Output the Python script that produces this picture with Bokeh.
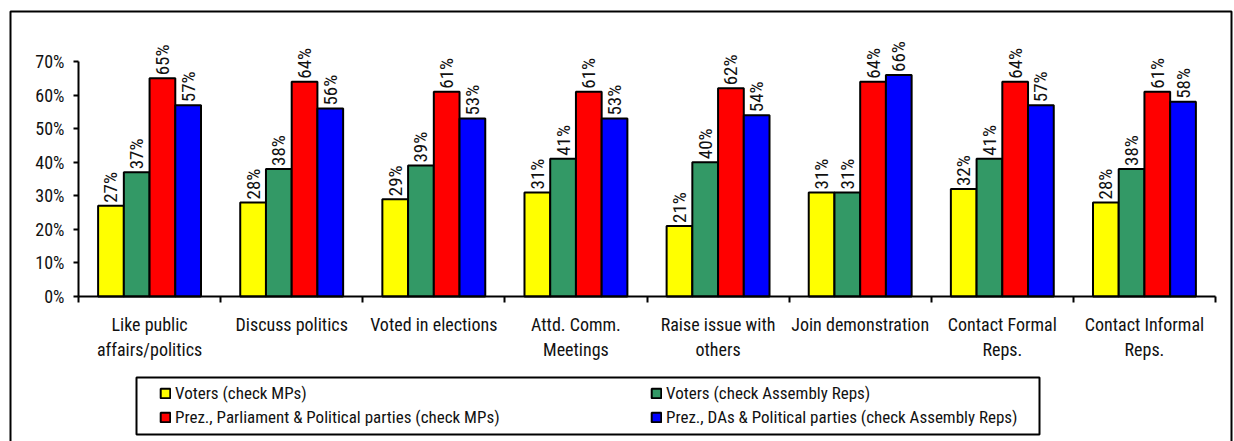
from bokeh.plotting import figure
from bokeh.models import (Range1d, FixedTicker, NumeralTickFormatter, Legend, LegendItem,
                          BoxAnnotation)
from bokeh.core.properties import value
from bokeh.embed import file_html
from bokeh.resources import INLINE

# Participation by category, percent of respondents in each group
categories = ["Like public\naffairs/politics", "Discuss politics", "Voted in elections",
              "Attd. Comm.\nMeetings", "Raise issue with\nothers", "Join demonstration",
              "Contact Formal\nReps.", "Contact Informal\nReps."]

series_names = ["Voters (check MPs)",
                "Voters (check Assembly Reps)",
                "Prez., Parliament & Political parties (check MPs)",
                "Prez., DAs & Political parties (check Assembly Reps)"]
voters_mps = [27, 28, 29, 31, 21, 31, 32, 28]
voters_assembly = [37, 38, 39, 41, 40, 31, 41, 38]
prez_parliament = [65, 64, 61, 61, 62, 64, 64, 61]
prez_das = [57, 56, 53, 53, 54, 66, 57, 58]
series_values = [voters_mps, voters_assembly, prez_parliament, prez_das]
series_colors = ["#FFFF00", "#339966", "#FF0000", "#0000FF"]

y_ticks = [0, 0.1, 0.2, 0.3, 0.4, 0.5, 0.6, 0.7]

FONT = "'Roboto Condensed', 'DejaVu Sans Condensed', 'Liberation Sans'"
TEXT = "#111111"

W, H = 1234, 441
# the plotting frame fills the whole canvas; axes sit at the data origin
X0, X1 = 78, 1215          # pixel span of the category axis
Y0, PX_PER_UNIT = 296, 335.7
ppx = (X1 - X0) / len(categories)
x_range = Range1d(-X0 / ppx, len(categories) + (W - X1) / ppx)
y_range = Range1d(-(H - Y0) / PX_PER_UNIT, Y0 / PX_PER_UNIT)

p = figure(width=W, height=H, output_backend="svg", toolbar_location=None,
           x_range=x_range, y_range=y_range,
           min_border_left=0, min_border_right=0, min_border_top=0, min_border_bottom=0)
p.grid.visible = False
p.outline_line_color = None
p.background_fill_color = "white"
p.border_fill_color = "white"

bar_w = 0.181
renderers = []
for k, (vals, color) in enumerate(zip(series_values, series_colors)):
    xs = [i + 0.5 + (k - 1.5) * bar_w for i in range(len(categories))]
    tops = [v / 100 for v in vals]
    r = p.vbar(x=xs, top=tops, width=bar_w, fill_color=color, line_color="black",
               line_width=2)
    renderers.append(r)
    p.text(x=xs, y=tops, text=[f"{v}%" for v in vals], angle=1.5708,
           text_align="left", text_baseline="middle", y_offset=-3,
           text_font=value(FONT), text_font_size="19px", text_color=TEXT)

# y axis: 0%..70%
ya = p.yaxis[0]
ya.fixed_location = 0
ya.ticker = FixedTicker(ticks=y_ticks)
ya.formatter = NumeralTickFormatter(format="0%")
ya.bounds = (0, 0.7)
ya.axis_line_width = 2
ya.major_tick_line_width = 2
ya.major_tick_out = 5
ya.major_tick_in = 0
ya.minor_tick_line_color = None
ya.major_label_text_font = FONT
ya.major_label_text_font_size = "18px"
ya.major_label_text_color = TEXT
ya.major_label_standoff = 9

# x axis: labels at category centres, ticks at category boundaries
xa = p.xaxis[0]
xa.fixed_location = 0
xa.bounds = (0, len(categories))
xa.ticker = FixedTicker(ticks=[i + 0.5 for i in range(len(categories))],
                        minor_ticks=list(range(len(categories) + 1)))
xa.major_label_overrides = {i + 0.5: c for i, c in enumerate(categories)}
xa.axis_line_width = 2
xa.major_tick_line_color = None
xa.major_tick_out = 0
xa.major_tick_in = 0
xa.minor_tick_line_width = 2
xa.minor_tick_out = 6
xa.minor_tick_in = 0
xa.major_label_text_font = FONT
xa.major_label_text_font_size = "18px"
xa.major_label_text_color = TEXT
xa.major_label_standoff = 11

# two-column legend, one Legend per column
for col, idx in enumerate([(0, 2), (1, 3)]):
    items = [LegendItem(label=series_names[j], renderers=[renderers[j]]) for j in idx]
    lg = Legend(items=items, location=(159 if col == 0 else 650, 14),
                padding=0, margin=0, spacing=4, glyph_width=12, glyph_height=12,
                label_height=20, label_standoff=4, label_text_font=FONT,
                label_text_font_size="17px", label_text_color=TEXT,
                background_fill_alpha=0, border_line_alpha=0)
    p.add_layout(lg, "center")

# screen units here count upward from the bottom edge
p.add_layout(BoxAnnotation(left=136, right=1039, top=H - 377, bottom=H - 434,
                           left_units="screen", right_units="screen",
                           top_units="screen", bottom_units="screen",
                           fill_alpha=0, line_color="black", line_alpha=1, line_width=2,
                           level="overlay"))
p.add_layout(BoxAnnotation(left=10, right=1231, top=H - 11, bottom=-20,
                           left_units="screen", right_units="screen",
                           top_units="screen", bottom_units="screen",
                           fill_alpha=0, line_color="black", line_alpha=1, line_width=2,
                           level="overlay"))

open("out.html", "w").write(file_html(p, INLINE))
